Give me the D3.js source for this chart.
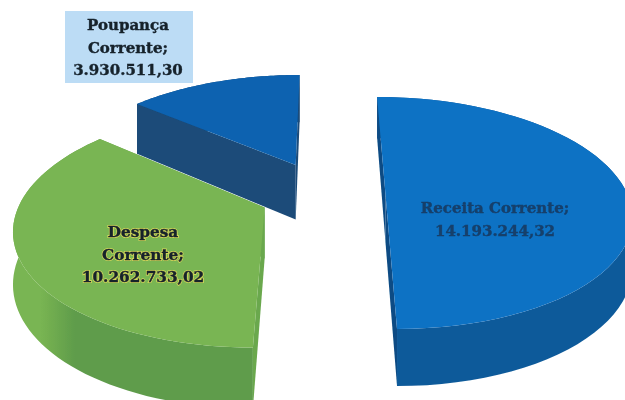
<!DOCTYPE html>
<html>
<head>
<meta charset="utf-8">
<style>
html, body { margin: 0; padding: 0; background: #fff; }
svg { display: block; }
text { font-family: "DejaVu Serif", serif; font-weight: bold; text-anchor: middle; dominant-baseline: central; }
</style>
<script src="https://d3js.org/d3.v7.min.js"></script>
</head>
<body>
<div id="chart"></div>
<script>
var categories = ["Receita Corrente", "Despesa Corrente", "Poupança Corrente"];
var values = [14193244.32, 10262733.02, 3930511.30];
var labelLines = [["Receita Corrente;"], ["Despesa", "Corrente;"], ["Poupança", "Corrente;"]];

var width = 625, height = 400;

// 3d look of the pie
var explode = [0.25, 0.27, 0.30];
var perspective = 0.16;
var depth = [48, 50, 57];
var topColors = ["#0f72c4", "#79b552", "#0b62b0"];
var sideColors = ["#0d5a9a", "#5f9c4b", "#1b4b79"];
var edgeColors = ["#0b4c84", "#6aa84e", "#1b4b79"];
var labelPos = [[495, 208], [143, 232], [128, 25]];
var labelColors = ["#143f6b", "#16222c", "#16222c"];

var x = d3.scaleLinear().domain([-1, 1]).range([325 - 242, 325 + 242]);
var y = d3.scaleLinear().domain([-1, 1]).range([194.4 + 113, 194.4 - 113]);
var fmt = d3.formatLocale({decimal: ",", thousands: ".", grouping: [3], currency: ["", ""]}).format(",.2f");

var svg = d3.select("#chart").append("svg")
    .attr("width", width)
    .attr("height", height);

var defs = svg.append("defs");
defs.append("filter").attr("id", "scan")
    .append("feGaussianBlur").attr("stdDeviation", 0.5);

var grad = defs.append("linearGradient").attr("id", "despesaSide")
    .attr("gradientUnits", "userSpaceOnUse")
    .attr("x1", 40).attr("x2", 75).attr("y1", 0).attr("y2", 0);
grad.append("stop").attr("offset", 0).attr("stop-color", topColors[1]);
grad.append("stop").attr("offset", 1).attr("stop-color", sideColors[1]);

var pie = d3.pie().sort(null).value(function(d) { return d; })
    .startAngle(0).endAngle(2 * Math.PI);
var slices = pie(values);

// plane coords -> screen, z is 0 on the top face and 1 on the bottom face
function project(u, v, z, h) {
    var w = 1 / (1 + perspective * v);
    return [x(u * w), y(v * w) + z * h * w];
}

function slicePoint(d, i, a, r, z) {
    var mid = (d.startAngle + d.endAngle) / 2;
    var ou = explode[i] * Math.sin(mid);
    var ov = explode[i] * Math.cos(mid);
    return project(ou + r * Math.sin(a), ov + r * Math.cos(a), z, depth[i]);
}

function arcAngles(d) {
    return d3.range(0, 61).map(function(k) {
        return d.startAngle + (d.endAngle - d.startAngle) * k / 60;
    });
}

var line = d3.line();
var g = svg.append("g").attr("filter", "url(#scan)");

// back to front so the nearest slice is on top
[2, 1, 0].forEach(function(i) {
    var d = slices[i];
    var angles = arcAngles(d);

    // outer wall
    var wall = angles.map(function(a) { return slicePoint(d, i, a, 1, 0); })
        .concat(angles.slice().reverse().map(function(a) { return slicePoint(d, i, a, 1, 1); }));
    g.append("path")
        .attr("d", line(wall) + "Z")
        .attr("fill", i == 1 ? "url(#despesaSide)" : sideColors[i]);

    // the two cut walls
    [d.startAngle, d.endAngle].forEach(function(a) {
        var cut = [
            slicePoint(d, i, a, 0, 0), slicePoint(d, i, a, 1, 0),
            slicePoint(d, i, a, 1, 1), slicePoint(d, i, a, 0, 1)
        ];
        g.append("path")
            .attr("d", line(cut) + "Z")
            .attr("fill", edgeColors[i]);
    });

    // top face
    var top = [slicePoint(d, i, 0, 0, 0)]
        .concat(angles.map(function(a) { return slicePoint(d, i, a, 1, 0); }));
    g.append("path")
        .attr("d", line(top) + "Z")
        .attr("fill", topColors[i]);
});

// label box of the small slice
g.append("rect")
    .attr("x", 65).attr("y", 11)
    .attr("width", 128).attr("height", 72)
    .attr("fill", "#bcdcf5");

var labels = g.selectAll("g.label")
    .data(categories)
    .enter().append("g")
    .attr("class", "label");

labels.each(function(name, i) {
    var lines = labelLines[i].concat([fmt(values[i])]);
    // halo on the green slice, then the text with a thin stroke to make it heavier
    if (i == 1) {
        d3.select(this).selectAll("text.halo")
            .data(lines)
            .enter().append("text")
            .attr("class", "halo")
            .attr("x", labelPos[i][0])
            .attr("y", function(t, k) { return labelPos[i][1] + k * 22.5; })
            .attr("font-size", 15.3)
            .attr("fill", "none")
            .attr("stroke", "#d4d75a")
            .attr("stroke-width", 2)
            .text(function(t) { return t; });
    }
    d3.select(this).selectAll("text.txt")
        .data(lines)
        .enter().append("text")
        .attr("class", "txt")
        .attr("x", labelPos[i][0])
        .attr("y", function(t, k) { return labelPos[i][1] + k * 22.5; })
        .attr("font-size", i == 1 ? 15.3 : 15)
        .attr("fill", labelColors[i])
        .attr("stroke", labelColors[i])
        .attr("stroke-width", 0.4)
        .text(function(t) { return t; });
});
</script>
</body>
</html>
